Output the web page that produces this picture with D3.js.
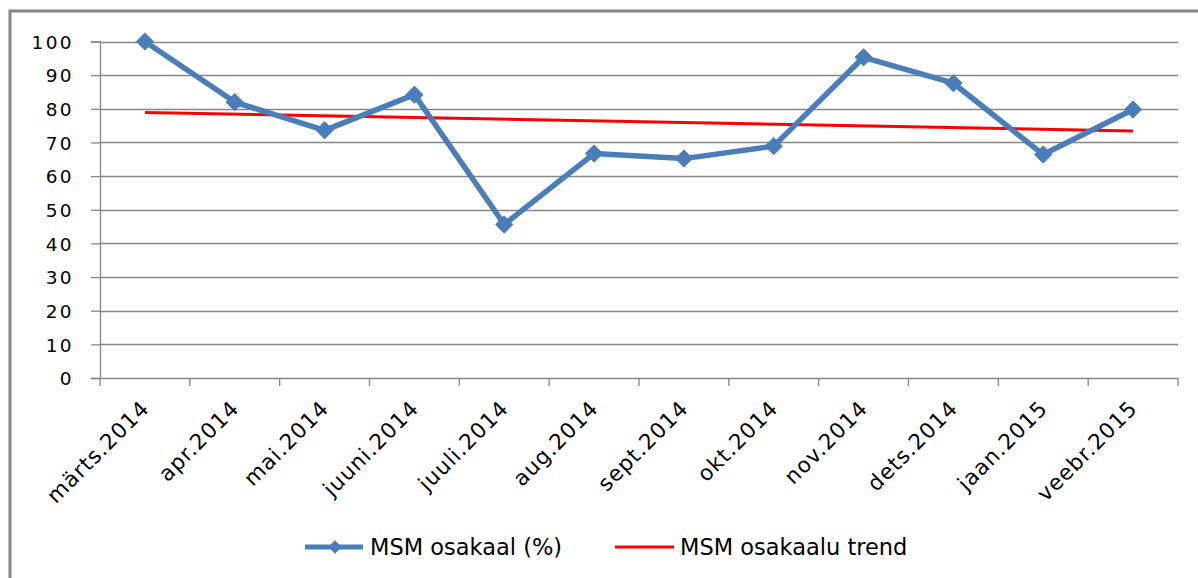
<!DOCTYPE html>
<html><head><meta charset="utf-8">
<script src="https://cdn.jsdelivr.net/npm/d3@7"></script>
<style>body{margin:0;background:#fff}svg{display:block}</style>
</head><body>
<script>
const categories = ["märts.2014","apr.2014","mai.2014","juuni.2014","juuli.2014","aug.2014","sept.2014","okt.2014","nov.2014","dets.2014","jaan.2015","veebr.2015"];
const shareValues = [100, 82, 73.6, 84.2, 45.6, 66.7, 65.2, 68.9, 95.3, 87.6, 66.4, 79.8];
const trendEnds = [78.9, 73.4];
const yTicks = [0,10,20,30,40,50,60,70,80,90,100];
const seriesNames = ["MSM osakaal (%)", "MSM osakaalu trend"];

(function(){
const W = 1198, H = 578;
const svg = d3.select("body").append("svg").attr("width", W).attr("height", H);
const pL = 100, pR = 1178, pT = 41.5, pB = 378;
const font = "DejaVu Sans";

// outer border
svg.append("path").attr("d", `M10,${H} L10,11 L${W},11`).attr("fill","none")
  .attr("stroke","#868686").attr("stroke-width",3);

const x = d3.scaleBand().domain(categories).range([pL, pR]);
const y = d3.scaleLinear().domain([0,100]).range([pB, pT]);

// gridlines
svg.append("g").selectAll("line").data(yTicks.filter(d=>d>0)).join("line")
  .attr("x1", pL).attr("x2", pR)
  .attr("y1", d=>Math.round(y(d))+0.5).attr("y2", d=>Math.round(y(d))+0.5)
  .attr("stroke","#868686").attr("stroke-width",1.3);

// y axis
const ya = svg.append("g").attr("transform",`translate(${pL},0)`)
  .call(d3.axisLeft(y).tickValues(yTicks).tickSize(9).tickPadding(17));
ya.select(".domain").attr("stroke","#868686").attr("stroke-width",1.3);
ya.selectAll(".tick line").attr("stroke","#868686").attr("stroke-width",1.3);
ya.selectAll("text").attr("font-family",font).attr("font-size",18.5).attr("fill","#000")
  .attr("letter-spacing","2.4px").attr("dy","0.36em");

// x axis
const xa = svg.append("g").attr("transform",`translate(0,${pB})`)
  .call(d3.axisBottom(x).tickSize(0).tickFormat(""));
xa.select(".domain").attr("stroke","#868686").attr("stroke-width",1.3);
svg.append("g").selectAll("line").data(d3.range(categories.length+1)).join("line")
  .attr("x1", i=>pL + i*x.step()).attr("x2", i=>pL + i*x.step())
  .attr("y1", pB).attr("y2", pB+8).attr("stroke","#868686").attr("stroke-width",1.3);
svg.append("g").selectAll("text").data(categories).join("text")
  .attr("transform", d=>`translate(${x(d)+x.bandwidth()/2-5},${pB+21}) rotate(-45)`)
  .attr("text-anchor","end").attr("dy","0.7em")
  .attr("font-family",font).attr("font-size",21.5).attr("letter-spacing","1px").attr("fill","#000")
  .text(d=>d);

// trend line
const cx = d => x(d)+x.bandwidth()/2;
svg.append("line")
  .attr("x1", cx(categories[0])).attr("y1", y(trendEnds[0]))
  .attr("x2", cx(categories[categories.length-1])).attr("y2", y(trendEnds[1]))
  .attr("stroke","#ff0000").attr("stroke-width",3);

// series
const line = d3.line().x((d,i)=>cx(categories[i])).y(d=>y(d));
svg.append("path").datum(shareValues).attr("d", line).attr("fill","none")
  .attr("stroke","#4a7ebb").attr("stroke-width",5.5).attr("stroke-linejoin","round");
const diamond = d3.symbol().type(d3.symbolDiamond2).size(190);
svg.append("g").selectAll("path").data(shareValues).join("path")
  .attr("transform",(d,i)=>`translate(${cx(categories[i])},${y(d)})`)
  .attr("d", diamond()).attr("fill","#4a7ebb").attr("stroke","#4a7ebb").attr("stroke-width",1);

// legend
const ly = 547;
const lg = svg.append("g");
lg.append("line").attr("x1",305).attr("x2",363).attr("y1",ly).attr("y2",ly)
  .attr("stroke","#4a7ebb").attr("stroke-width",5);
lg.append("path").attr("transform",`translate(335,${ly})`).attr("d", d3.symbol().type(d3.symbolDiamond2).size(120)())
  .attr("fill","#4a7ebb");
lg.append("text").attr("x",370).attr("y",ly).attr("dy","0.36em").attr("font-family",font)
  .attr("font-size",22.5).attr("fill","#000").text(seriesNames[0]);
lg.append("line").attr("x1",615).attr("x2",674).attr("y1",ly).attr("y2",ly)
  .attr("stroke","#ff0000").attr("stroke-width",3);
lg.append("text").attr("x",680).attr("y",ly).attr("dy","0.36em").attr("font-family",font)
  .attr("font-size",22.5).attr("fill","#000").text(seriesNames[1]);
})();
</script>
</body></html>
